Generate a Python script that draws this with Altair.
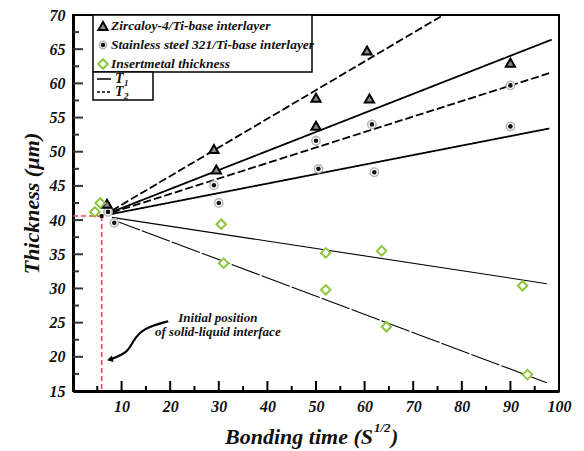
import altair as alt
import pandas as pd

# ---------------- data ----------------
series_labels = ["Zircaloy-4/Ti-base interlayer",
                 "Stainless steel 321/Ti-base interlayer",
                 "Insertmetal thickness"]

zr_x = [7.0, 29.0, 29.5, 50.0, 50.0, 60.5, 61.0, 90.0]
zr_y = [42.4, 50.4, 47.4, 57.9, 53.8, 64.8, 57.8, 63.0]

ss_x = [7.2, 8.5, 29.0, 30.0, 50.0, 50.5, 61.5, 62.0, 90.0, 90.0]
ss_y = [41.2, 39.6, 45.1, 42.5, 51.6, 47.5, 54.0, 47.0, 59.7, 53.7]

im_x = [4.5, 5.6, 30.5, 31.0, 52.0, 52.0, 63.5, 64.5, 92.5, 93.5]
im_y = [41.2, 42.5, 39.4, 33.7, 35.2, 29.8, 35.5, 24.4, 30.4, 17.4]

# fitted lines (start / end values)
fit_name = ["Zr T1", "Zr T2", "SS T1", "SS T2", "IM T1", "IM T2"]
fit_type = ["T1", "T2", "T1", "T2", "T1", "T2"]
fit_group = ["main", "main", "main", "main", "insert", "insert"]
fit_x0 = [8.0, 8.0, 8.0, 8.0, 8.0, 8.0]
fit_y0 = [41.2, 41.4, 40.9, 41.1, 40.4, 40.1]
fit_x1 = [98.5, 76.2, 98.0, 98.5, 97.5, 97.5]
fit_y1 = [66.4, 70.0, 53.4, 61.6, 30.7, 16.2]

# initial interface position
init_x = 5.9
init_y = 40.6

# annotation
note_lines = ["Initial position", "of solid-liquid interface"]
note_x = [29.8, 29.8]
note_y = [25.7, 23.6]
arrow_x = [19.6, 14.4, 12.3, 11.3, 7.6]
arrow_y = [25.2, 24.2, 22.3, 20.6, 19.6]

x_labels = [10, 20, 30, 40, 50, 60, 70, 80, 90, 100]
y_labels = [15, 20, 25, 30, 35, 40, 45, 50, 55, 60, 65, 70]
x_major = [10, 20, 30, 40, 50, 60, 70, 80, 90]
x_minor = [5, 15, 25, 35, 45, 55, 65, 75, 85, 95]
y_major = [20, 25, 30, 35, 40, 45, 50, 55, 60, 65]
y_minor = [17.5, 22.5, 27.5, 32.5, 37.5, 42.5, 47.5, 52.5, 57.5, 62.5, 67.5]

x_title_main = "Bonding time (S"
x_title_sup = "1/2"
x_title_end = ")"
line_types = ["T1", "T2"]
line_main = ["T", "T"]
line_sub = ["1", "2"]

# ---------------- tables ----------------
pts = pd.concat([
    pd.DataFrame({"x": zr_x, "y": zr_y, "series": series_labels[0]}),
    pd.DataFrame({"x": ss_x, "y": ss_y, "series": series_labels[1]}),
    pd.DataFrame({"x": im_x, "y": im_y, "series": series_labels[2]}),
], ignore_index=True)
ss_pts = pts[pts.series == series_labels[1]]

rows = []
for n, t, g, a, b, c, d in zip(fit_name, fit_type, fit_group, fit_x0, fit_y0, fit_x1, fit_y1):
    rows.append({"name": n, "type": t, "group": g, "x": a, "y": b, "o": 0})
    rows.append({"name": n, "type": t, "group": g, "x": c, "y": d, "o": 1})
lines = pd.DataFrame(rows)

FONT = "Liberation Serif"
W, H = 486, 376
XS = alt.Scale(domain=[0, 100], nice=False, zero=False)
YS = alt.Scale(domain=[15, 70], nice=False, zero=False)

xaxis = alt.Axis(values=x_labels, title=None, labelPadding=7, labelOverlap=False,
                 labelFlush=False)
yaxis = alt.Axis(values=y_labels, title="Thickness (µm)", labelPadding=8,
                 titlePadding=6, labelOverlap=False, labelFlush=False)
xenc = alt.X("x:Q", scale=XS, axis=xaxis)
yenc = alt.Y("y:Q", scale=YS, axis=yaxis)

shape_s = alt.Scale(domain=series_labels, range=["triangle-up", "circle", "diamond"])
fill_s = alt.Scale(domain=series_labels, range=["#8a8a8a", "black", "#ffffff"])
stroke_s = alt.Scale(domain=series_labels, range=["black", "#111111", "#8cc63e"])
size_s = alt.Scale(type="ordinal", domain=series_labels, range=[85, 7, 90])
dash_s = alt.Scale(domain=line_types, range=[[1, 0], [8, 3]])

# ---------------- layers ----------------
main_lines = alt.Chart(lines[lines.group == "main"]).mark_line(
    color="black", strokeWidth=1.8).encode(
    x=xenc, y=yenc, detail="name:N", order="o:Q",
    strokeDash=alt.StrokeDash("type:N", scale=dash_s, legend=None))

ins1 = alt.Chart(lines[lines.name == "IM T1"]).mark_line(
    color="black", strokeWidth=1.1).encode(x=xenc, y=yenc, order="o:Q")
ins2 = alt.Chart(lines[lines.name == "IM T2"]).mark_line(
    color="black", strokeWidth=1.1, strokeDash=[30, 2]).encode(
    x=xenc, y=yenc, order="o:Q")

red_h = alt.Chart(pd.DataFrame({"x": [0], "x2": [init_x], "y": [init_y]})).mark_rule(
    color="#f04848", strokeWidth=1.6, strokeDash=[5, 3]).encode(x=xenc, x2="x2", y=yenc)
red_v = alt.Chart(pd.DataFrame({"x": [init_x], "y": [init_y], "y2": [15]})).mark_rule(
    color="#f04848", strokeWidth=1.6, strokeDash=[5, 3]).encode(x=xenc, y=yenc, y2="y2")
corner = alt.Chart(pd.DataFrame({"x": [init_x], "y": [init_y]})).mark_point(
    shape="square", filled=True, color="black", size=14, opacity=1).encode(x=xenc, y=yenc)

ss_ring = alt.Chart(ss_pts).mark_point(
    shape="circle", filled=True, fill="white", stroke="#b5b5b5", strokeWidth=1.5,
    size=70, opacity=1, fillOpacity=1).encode(x=xenc, y=yenc)

points = alt.Chart(pts).mark_point(filled=True, opacity=1, fillOpacity=1,
                                   strokeWidth=2).encode(
    x=xenc, y=yenc,
    shape=alt.Shape("series:N", scale=shape_s, legend=None),
    fill=alt.Fill("series:N", scale=fill_s, legend=None),
    stroke=alt.Stroke("series:N", scale=stroke_s, legend=None),
    size=alt.Size("series:N", scale=size_s, legend=None),
)

ticks_xM = alt.Chart(pd.DataFrame({"x": x_major})).mark_rule(color="black", strokeWidth=2).encode(
    x=xenc, y=alt.value(H), y2=alt.value(H - 10))
ticks_xm = alt.Chart(pd.DataFrame({"x": x_minor})).mark_rule(color="black", strokeWidth=2).encode(
    x=xenc, y=alt.value(H), y2=alt.value(H - 5))
ticks_yM = alt.Chart(pd.DataFrame({"y": y_major})).mark_rule(color="#333", strokeWidth=2).encode(
    y=yenc, x=alt.value(0), x2=alt.value(10))
ticks_ym = alt.Chart(pd.DataFrame({"y": y_minor})).mark_rule(color="#333", strokeWidth=2).encode(
    y=yenc, x=alt.value(0), x2=alt.value(6))

note = alt.Chart(pd.DataFrame({"x": note_x, "y": note_y, "t": note_lines})).mark_text(
    font=FONT, fontSize=13, fontStyle="italic", fontWeight="bold", color="#111",
    align="center", baseline="middle").encode(x=xenc, y=yenc, text="t:N")
arrow = alt.Chart(pd.DataFrame({"x": arrow_x, "y": arrow_y, "o": list(range(len(arrow_x)))})).mark_line(
    color="black", strokeWidth=2.2, interpolate="basis").encode(x=xenc, y=yenc, order="o:Q")
head = alt.Chart(pd.DataFrame({"x": [arrow_x[-1]], "y": [arrow_y[-1]]})).mark_point(
    shape="triangle-left", filled=True, color="black", size=45, opacity=1, angle=345).encode(x=xenc, y=yenc)

title_style = dict(font=FONT, fontStyle="italic", fontWeight="bold", color="#111")
xt1 = alt.Chart(pd.DataFrame({"t": [x_title_main]})).mark_text(
    fontSize=22, align="right", baseline="alphabetic", **title_style).encode(
    text="t:N", x=alt.value(300), y=alt.value(429))
xt2 = alt.Chart(pd.DataFrame({"t": [x_title_sup]})).mark_text(
    fontSize=13, align="left", baseline="alphabetic", **title_style).encode(
    text="t:N", x=alt.value(301), y=alt.value(417))
xt3 = alt.Chart(pd.DataFrame({"t": [x_title_end]})).mark_text(
    fontSize=22, align="left", baseline="alphabetic", **title_style).encode(
    text="t:N", x=alt.value(318), y=alt.value(429))

# ---------------- legends (drawn inside the plot, top-left) ----------------
boxes = alt.Chart(pd.DataFrame({"bx": [20, 20], "bx2": [239, 80],
                                "by": [0, 57], "by2": [57, 85]})).mark_rect(
    fill="white", stroke="black", strokeWidth=1.5).encode(
    x=alt.X("bx:Q", scale=None), x2="bx2:Q",
    y=alt.Y("by:Q", scale=None), y2="by2:Q")

leg_df = pd.DataFrame({"series": series_labels, "row": [11, 30, 49]})
leg_ring = alt.Chart(leg_df[leg_df.series == series_labels[1]]).mark_point(
    shape="circle", filled=True, fill="white", stroke="#b5b5b5", strokeWidth=1.5,
    size=55, opacity=1).encode(x=alt.value(30), y=alt.Y("row:Q", scale=None))
leg_sym = alt.Chart(leg_df).mark_point(filled=True, opacity=1, strokeWidth=2).encode(
    x=alt.value(30), y=alt.Y("row:Q", scale=None),
    shape=alt.Shape("series:N", scale=shape_s, legend=None),
    fill=alt.Fill("series:N", scale=fill_s, legend=None),
    stroke=alt.Stroke("series:N", scale=stroke_s, legend=None),
    size=alt.Size("series:N", scale=size_s, legend=None),
)
leg_txt = alt.Chart(leg_df).mark_text(
    font=FONT, fontSize=13.5, fontStyle="italic", fontWeight="bold", color="#111",
    align="left", baseline="middle").encode(
    x=alt.value(38), y=alt.Y("row:Q", scale=None), text="series:N")

leg2_df = pd.DataFrame({"type": line_types, "main": line_main, "sub": line_sub,
                        "row": [64, 77], "srow": [68, 81]})
leg2_line = alt.Chart(leg2_df).mark_rule(color="black", strokeWidth=1.5).encode(
    x=alt.value(24), x2=alt.value(38), y=alt.Y("row:Q", scale=None),
    strokeDash=alt.StrokeDash("type:N", scale=alt.Scale(
        domain=line_types, range=[[1, 0], [3, 2]]), legend=None))
leg2_txt = alt.Chart(leg2_df).mark_text(
    font=FONT, fontSize=14, fontStyle="italic", fontWeight="bold", color="#111",
    align="left", baseline="middle").encode(
    x=alt.value(42), y=alt.Y("row:Q", scale=None), text="main:N")
leg2_sub = alt.Chart(leg2_df).mark_text(
    font=FONT, fontSize=9, fontStyle="italic", fontWeight="bold", color="#111",
    align="left", baseline="middle").encode(
    x=alt.value(51), y=alt.Y("srow:Q", scale=None), text="sub:N")

chart = alt.layer(
    main_lines, ins1, ins2, red_h, red_v, corner, arrow, head, note,
    ticks_xM, ticks_xm, ticks_yM, ticks_ym, ss_ring, points, xt1, xt2, xt3,
    boxes, leg_ring, leg_sym, leg_txt, leg2_line, leg2_txt, leg2_sub,
).resolve_scale(
    strokeDash="independent"
).properties(
    width=W, height=H,
    autosize=alt.AutoSizeParams(type="none"),
    padding={"left": 65, "top": 7, "right": 17, "bottom": 58},
    background="white",
).configure_view(
    stroke="black", strokeWidth=2
).configure_axis(
    grid=False, ticks=False, domainColor="black", domainWidth=3, labelOverlap=False,
    labelFont=FONT, labelFontSize=16, labelFontStyle="italic", labelFontWeight="bold",
    labelColor="#111", titleFont=FONT, titleFontSize=22, titleFontStyle="italic",
    titleFontWeight="bold", titleColor="#111",
)

chart.save("out.html", embed_options={"renderer": "svg", "actions": False})
